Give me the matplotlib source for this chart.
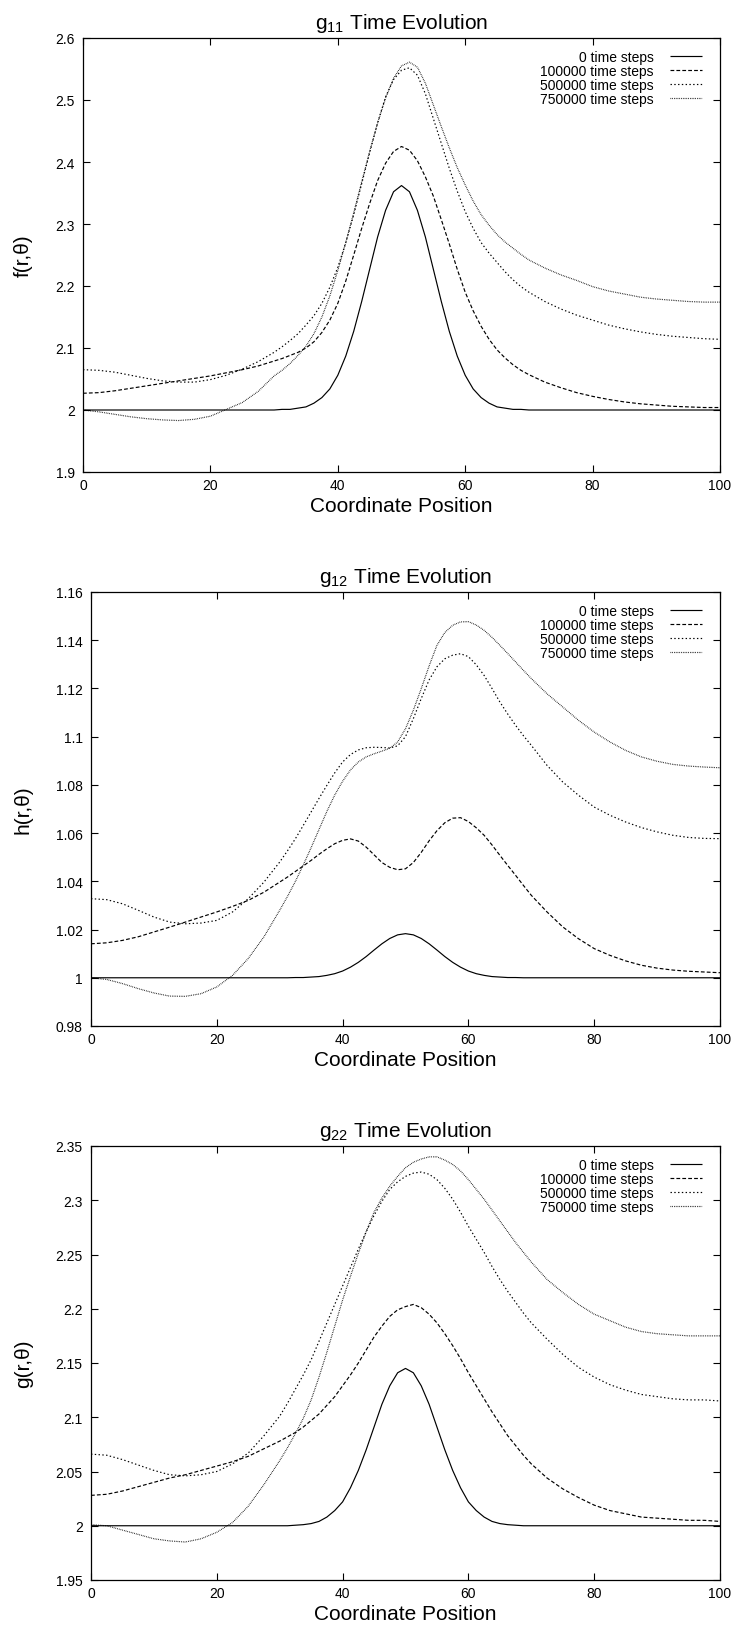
import numpy as np
import matplotlib.pyplot as plt
from matplotlib.ticker import FuncFormatter

plt.rcParams['font.family'] = ['Liberation Sans', 'DejaVu Sans']
plt.rcParams['mathtext.fontset'] = 'custom'
plt.rcParams['mathtext.rm'] = 'Liberation Sans'
plt.rcParams['mathtext.it'] = 'Liberation Sans:italic'

# sample positions: coarse on the flanks, finer through the peaks
position = np.concatenate([np.arange(0, 30, 2.5),
                           np.arange(30, 70.01, 1.25),
                           np.arange(72.5, 100.01, 2.5)])
steps = ['0 time steps', '100000 time steps', '500000 time steps', '750000 time steps']

# g11 -> f(r,theta)
f_0 = ([2.000] * 12 +
       [2.000, 2.001, 2.001, 2.003, 2.005, 2.011, 2.020, 2.034, 2.056, 2.087, 2.127,
        2.175, 2.227, 2.279, 2.322, 2.352, 2.362, 2.352, 2.322, 2.279, 2.227, 2.175,
        2.127, 2.087, 2.056, 2.034, 2.020, 2.011, 2.005, 2.003, 2.001, 2.001, 2.000] +
       [2.000] * 12)
f_1 = ([2.027, 2.028, 2.031, 2.035, 2.039, 2.043, 2.047, 2.051, 2.055, 2.060, 2.065, 2.071] +
       [2.079, 2.083, 2.088, 2.093, 2.100, 2.110, 2.125, 2.145, 2.172, 2.208, 2.250,
        2.293, 2.333, 2.370, 2.398, 2.417, 2.425, 2.419, 2.402, 2.376, 2.345, 2.307,
        2.268, 2.227, 2.190, 2.160, 2.135, 2.114, 2.097, 2.084, 2.073, 2.064, 2.057] +
       [2.045, 2.036, 2.028, 2.022, 2.017, 2.013, 2.010, 2.008, 2.006, 2.005, 2.004, 2.004])
f_5 = ([2.065, 2.064, 2.061, 2.056, 2.051, 2.047, 2.045, 2.045, 2.049, 2.056, 2.066, 2.078] +
       [2.093, 2.102, 2.112, 2.123, 2.137, 2.152, 2.172, 2.198, 2.230, 2.270, 2.315,
        2.365, 2.415, 2.463, 2.505, 2.533, 2.548, 2.552, 2.540, 2.510, 2.470, 2.430,
        2.390, 2.353, 2.320, 2.293, 2.270, 2.253, 2.238, 2.223, 2.210, 2.199, 2.190] +
       [2.175, 2.163, 2.153, 2.145, 2.137, 2.131, 2.126, 2.122, 2.119, 2.117, 2.115, 2.114])
f_75 = ([2.000, 1.997, 1.993, 1.989, 1.986, 1.984, 1.983, 1.985, 1.990, 2.001, 2.012, 2.030] +
        [2.055, 2.064, 2.075, 2.088, 2.103, 2.123, 2.150, 2.184, 2.225, 2.270, 2.318,
         2.368, 2.417, 2.463, 2.503, 2.535, 2.555, 2.561, 2.553, 2.527, 2.492, 2.457,
         2.423, 2.391, 2.363, 2.337, 2.315, 2.298, 2.283, 2.271, 2.261, 2.251, 2.242] +
        [2.229, 2.218, 2.209, 2.199, 2.192, 2.187, 2.182, 2.179, 2.177, 2.175, 2.174, 2.174])

# g12 -> h(r,theta)
h_0 = ([1.0] * 12 +
       [1.0000, 1.0000, 1.0001, 1.0001, 1.0003, 1.0005, 1.0010, 1.0017, 1.0028, 1.0044,
        1.0064, 1.0088, 1.0115, 1.0141, 1.0163, 1.0178, 1.0183, 1.0178, 1.0163, 1.0141,
        1.0115, 1.0088, 1.0064, 1.0044, 1.0028, 1.0017, 1.0010, 1.0005, 1.0003, 1.0001,
        1.0001, 1.0000, 1.0000] +
       [1.0] * 12)
h_1 = ([1.0141, 1.0145, 1.0155, 1.0170, 1.0190, 1.0210, 1.0231, 1.0252, 1.0273, 1.0296,
        1.0321, 1.0355] +
       [1.0397, 1.0418, 1.0441, 1.0464, 1.0487, 1.0512, 1.0535, 1.0556, 1.0570, 1.0576,
        1.0567, 1.0542, 1.0510, 1.0478, 1.0458, 1.0448, 1.0452, 1.0478, 1.0520, 1.0568,
        1.0610, 1.0643, 1.0662, 1.0664, 1.0648, 1.0622, 1.0591, 1.0551, 1.0508, 1.0466,
        1.0425, 1.0383, 1.0342] +
       [1.0273, 1.0211, 1.0162, 1.0121, 1.0093, 1.0070, 1.0052, 1.0040, 1.0032, 1.0027,
        1.0024, 1.0021])
h_5 = ([1.0328, 1.0324, 1.0307, 1.0280, 1.0252, 1.0231, 1.0224, 1.0227, 1.0238, 1.0273,
        1.0328, 1.0397] +
       [1.0480, 1.0527, 1.0577, 1.0632, 1.0688, 1.0744, 1.0798, 1.0850, 1.0895, 1.0926,
        1.0945, 1.0954, 1.0956, 1.0955, 1.0953, 1.0962, 1.1000, 1.1075, 1.1158, 1.1235,
        1.1290, 1.1323, 1.1338, 1.1344, 1.1332, 1.1298, 1.1254, 1.1200, 1.1144, 1.1094,
        1.1047, 1.1004, 1.0964] +
       [1.0881, 1.0812, 1.0757, 1.0708, 1.0674, 1.0646, 1.0623, 1.0605, 1.0591, 1.0582,
        1.0578, 1.0577])
h_75 = ([1.0000, 0.9993, 0.9976, 0.9955, 0.9937, 0.9924, 0.9923, 0.9934, 0.9962, 1.0010,
         1.0080, 1.0170] +
        [1.0280, 1.0338, 1.0400, 1.0468, 1.0540, 1.0615, 1.0690, 1.0758, 1.0815, 1.0862,
         1.0895, 1.0916, 1.0929, 1.0940, 1.0952, 1.0978, 1.1033, 1.1110, 1.1199, 1.1293,
         1.1379, 1.1432, 1.1462, 1.1476, 1.1477, 1.1463, 1.1441, 1.1412, 1.1379, 1.1345,
         1.1310, 1.1275, 1.1241] +
        [1.1178, 1.1123, 1.1068, 1.1019, 1.0978, 1.0943, 1.0916, 1.0898, 1.0885, 1.0878,
         1.0874, 1.0871])

# g22 -> g(r,theta)
g_0 = ([2.0] * 12 +
       [2.000, 2.000, 2.0005, 2.001, 2.002, 2.004, 2.008, 2.014, 2.022, 2.035, 2.051,
        2.070, 2.091, 2.112, 2.129, 2.141, 2.145, 2.141, 2.129, 2.112, 2.091, 2.070,
        2.051, 2.035, 2.022, 2.014, 2.008, 2.004, 2.002, 2.001, 2.0005, 2.000, 2.000] +
       [2.0] * 12)
g_1 = ([2.028, 2.029, 2.032, 2.036, 2.040, 2.044, 2.047, 2.051, 2.055, 2.059, 2.064, 2.071] +
       [2.078, 2.082, 2.086, 2.091, 2.097, 2.103, 2.111, 2.119, 2.129, 2.139, 2.150,
        2.162, 2.174, 2.184, 2.193, 2.199, 2.202, 2.204, 2.201, 2.195, 2.187, 2.177,
        2.166, 2.154, 2.141, 2.129, 2.117, 2.105, 2.094, 2.083, 2.074, 2.065, 2.057] +
       [2.044, 2.034, 2.026, 2.019, 2.014, 2.011, 2.008, 2.007, 2.006, 2.005, 2.005, 2.004])
g_5 = ([2.066, 2.065, 2.061, 2.056, 2.051, 2.047, 2.046, 2.047, 2.050, 2.057, 2.067, 2.083] +
       [2.101, 2.113, 2.126, 2.139, 2.153, 2.170, 2.187, 2.204, 2.221, 2.238, 2.255,
        2.271, 2.286, 2.299, 2.310, 2.317, 2.322, 2.325, 2.326, 2.324, 2.319, 2.311,
        2.301, 2.289, 2.276, 2.264, 2.252, 2.239, 2.227, 2.216, 2.206, 2.196, 2.187] +
       [2.172, 2.158, 2.146, 2.137, 2.130, 2.125, 2.121, 2.119, 2.117, 2.116, 2.116, 2.115])
g_75 = ([2.001, 2.000, 1.996, 1.992, 1.988, 1.986, 1.985, 1.988, 1.994, 2.003, 2.018, 2.038] +
        [2.060, 2.072, 2.085, 2.099, 2.116, 2.137, 2.160, 2.184, 2.208, 2.230, 2.251,
         2.271, 2.289, 2.302, 2.313, 2.322, 2.330, 2.335, 2.338, 2.340, 2.340, 2.337,
         2.333, 2.327, 2.319, 2.310, 2.301, 2.291, 2.281, 2.271, 2.261, 2.252, 2.243] +
        [2.227, 2.215, 2.204, 2.195, 2.189, 2.183, 2.179, 2.177, 2.176, 2.175, 2.175, 2.175])

xticks = [0, 20, 40, 60, 80, 100]
f_ticks = [1.9, 2.0, 2.1, 2.2, 2.3, 2.4, 2.5, 2.6]
h_ticks = [0.98, 1.0, 1.02, 1.04, 1.06, 1.08, 1.1, 1.12, 1.14, 1.16]
g_ticks = [1.95, 2.0, 2.05, 2.1, 2.15, 2.2, 2.25, 2.3, 2.35]

panels = [
    ('g$_{11}$ Time Evolution', 'f(r,θ)', f_ticks, [f_0, f_1, f_5, f_75]),
    ('g$_{12}$ Time Evolution', 'h(r,θ)', h_ticks, [h_0, h_1, h_5, h_75]),
    ('g$_{22}$ Time Evolution', 'g(r,θ)', g_ticks, [g_0, g_1, g_5, g_75]),
]

# gnuplot-like line types
line_styles = [(0, ()), (0, (3.2, 1.8)), (0, (1.2, 2.0)), (0, (0.6, 0.9))]
line_colors = ['black', 'black', 'black', 'black']

W, H = 738, 1631
boxes = [(83, 39), (91, 593), (91, 1147)]  # left, top in pixels
ax_h = 434

fig = plt.figure(figsize=(W / 100, H / 100), dpi=100)

for (title, ylab, yt, series), (left, top) in zip(panels, boxes):
    width = 720 - left
    ax = fig.add_axes([left / W, 1 - (top + ax_h) / H, width / W, ax_h / H])
    for vals, name, ls, c in zip(series, steps, line_styles, line_colors):
        ax.plot(position, vals, color=c, lw=0.85, linestyle=ls, label=name)

    ax.set_xlim(0, 100)
    ax.set_ylim(yt[0], yt[-1])
    ax.set_xticks(xticks)
    ax.set_yticks(yt)
    ax.yaxis.set_major_formatter(FuncFormatter(lambda v, p: f"{v:g}"))
    ax.tick_params(direction='in', length=5, width=0.8, top=True, right=True,
                   labelsize=10)
    ax.tick_params(axis='y', pad=6)
    ax.tick_params(axis='x', pad=4)
    for s in ax.spines.values():
        s.set_linewidth(0.9)

    ax.set_title(title, fontsize=15, pad=7)
    ax.set_xlabel('Coordinate Position', fontsize=15, labelpad=3)
    ax.set_ylabel(ylab, fontsize=15)
    ax.yaxis.set_label_coords((33 - left) / width, 0.5)

    ax.legend(loc='upper right', bbox_to_anchor=((702 - left) / width, 0.972),
              frameon=False, markerfirst=False, fontsize=10, handlelength=2.3,
              handletextpad=1.2, labelspacing=0.0, borderpad=0, borderaxespad=0)

plt.savefig('out.png', dpi=100)
